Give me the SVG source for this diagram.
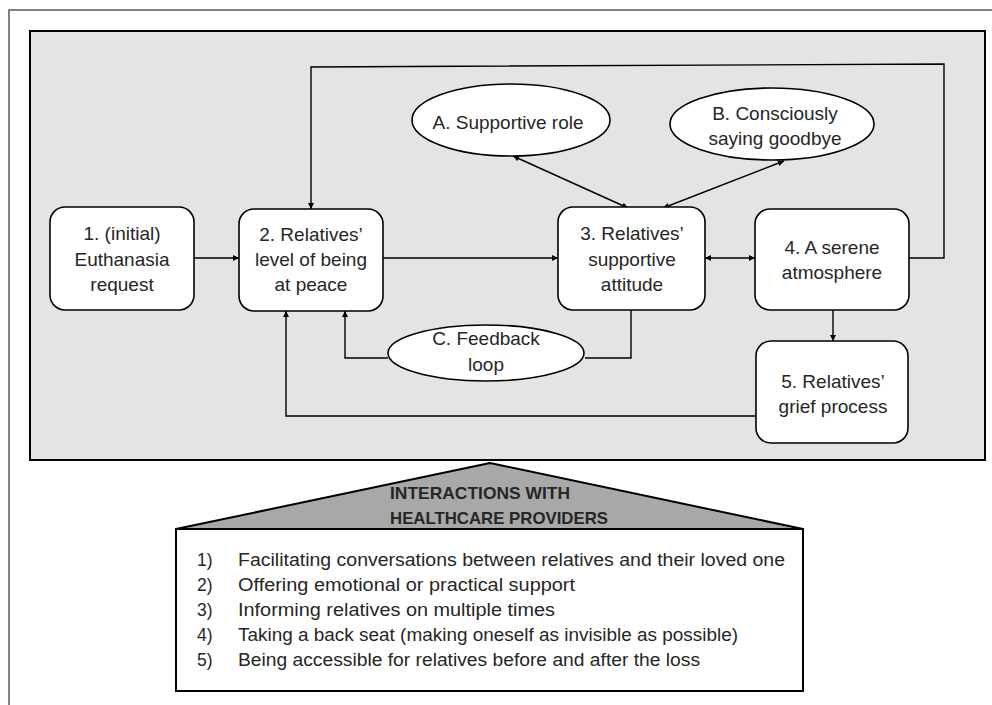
<svg xmlns="http://www.w3.org/2000/svg" width="992" height="705" viewBox="0 0 992 705">
<defs>
<marker id="ah" viewBox="0 0 10 10" refX="10" refY="5" markerWidth="7" markerHeight="6" markerUnits="userSpaceOnUse" orient="auto-start-reverse">
<path d="M0,0 L10,5 L0,10 z" fill="#000"/>
</marker>
<style>
.frame{fill:none;stroke:#5a5a5a;stroke-width:1.5}
.panel{fill:#e4e4e4;stroke:#000;stroke-width:2}
.node{fill:#fff;stroke:#000;stroke-width:1.6}
.conn{fill:none;stroke:#000;stroke-width:1.4}
.t{font-family:"Liberation Sans",Arial,sans-serif;font-size:19px;fill:#262626;text-anchor:middle}
.li{font-family:"Liberation Sans",Arial,sans-serif;font-size:17.5px;fill:#262626}
.hd{font-family:"Liberation Sans",Arial,sans-serif;font-size:17px;font-weight:bold;fill:#262626}
</style>
</defs>
<path class="frame" d="M9,705 L9,10 L992,10"/>
<rect class="panel" x="30" y="31" width="955" height="429"/>

<g id="connectors">
<path class="conn" d="M194,258 L239,258" marker-end="url(#ah)"/>
<path class="conn" d="M383,258 L558,258" marker-end="url(#ah)"/>
<path class="conn" d="M705,258 L755,258" marker-start="url(#ah)" marker-end="url(#ah)"/>
<path class="conn" d="M909,258 L944,258 L944,64 L311,67 L311,209" marker-end="url(#ah)"/>
<path class="conn" d="M513,156 L628,208" marker-start="url(#ah)" marker-end="url(#ah)"/>
<path class="conn" d="M784,161 L663,208" marker-start="url(#ah)" marker-end="url(#ah)"/>
<path class="conn" d="M631,310 L631,358 L585,358"/>
<path class="conn" d="M388,358 L345,358 L345,311" marker-end="url(#ah)"/>
<path class="conn" d="M833,310 L833,341" marker-end="url(#ah)"/>
<path class="conn" d="M756,416 L286,416 L286,311" marker-end="url(#ah)"/>
</g>

<g id="n1">
<rect class="node" x="50" y="207" width="144" height="103" rx="15"/>
<text class="t" x="122" y="240">1. (initial)</text>
<text class="t" x="122" y="266">Euthanasia</text>
<text class="t" x="122" y="291">request</text>
</g>
<g id="n2">
<rect class="node" x="239" y="209" width="144" height="102" rx="15"/>
<text class="t" x="311" y="241">2. Relatives’</text>
<text class="t" x="311" y="266">level of being</text>
<text class="t" x="311" y="291">at peace</text>
</g>
<g id="n3">
<rect class="node" x="558" y="207" width="147" height="103" rx="15"/>
<text class="t" x="632" y="240">3. Relatives’</text>
<text class="t" x="632" y="266">supportive</text>
<text class="t" x="632" y="291">attitude</text>
</g>
<g id="n4">
<rect class="node" x="755" y="209" width="154" height="101" rx="15"/>
<text class="t" x="832" y="254">4. A serene</text>
<text class="t" x="832" y="279">atmosphere</text>
</g>
<g id="n5">
<rect class="node" x="756" y="341" width="152" height="102" rx="15"/>
<text class="t" x="833" y="388">5. Relatives’</text>
<text class="t" x="833" y="413">grief process</text>
</g>
<g id="A">
<ellipse class="node" cx="511" cy="120" rx="99" ry="36"/>
<text class="t" x="508" y="129">A. Supportive role</text>
</g>
<g id="B">
<ellipse class="node" cx="772" cy="124" rx="102" ry="36"/>
<text class="t" x="775" y="120">B. Consciously</text>
<text class="t" x="775" y="145">saying goodbye</text>
</g>
<g id="C">
<ellipse class="node" cx="486" cy="353" rx="98" ry="28"/>
<text class="t" x="486" y="345">C. Feedback</text>
<text class="t" x="486" y="371">loop</text>
</g>

<g id="providers">
<path d="M176,529 L490,463 L803,529 Z" fill="#a8a8a8" stroke="#000" stroke-width="2" stroke-linejoin="round"/>
<text class="hd" x="390" y="499" textLength="180" lengthAdjust="spacingAndGlyphs">INTERACTIONS WITH</text>
<text class="hd" x="390" y="524" textLength="218" lengthAdjust="spacingAndGlyphs">HEALTHCARE PROVIDERS</text>
<rect x="176" y="529" width="627" height="162" fill="#fff" stroke="#000" stroke-width="2"/>
<text class="li" x="197" y="566">1)</text>
<text class="li" x="238" y="566" textLength="547" lengthAdjust="spacingAndGlyphs">Facilitating conversations between relatives and their loved one</text>
<text class="li" x="197" y="591">2)</text>
<text class="li" x="238" y="591" textLength="337" lengthAdjust="spacingAndGlyphs">Offering emotional or practical support</text>
<text class="li" x="197" y="616">3)</text>
<text class="li" x="238" y="616" textLength="317" lengthAdjust="spacingAndGlyphs">Informing relatives on multiple times</text>
<text class="li" x="197" y="641">4)</text>
<text class="li" x="238" y="641" textLength="500" lengthAdjust="spacingAndGlyphs">Taking a back seat (making oneself as invisible as possible)</text>
<text class="li" x="197" y="666">5)</text>
<text class="li" x="238" y="666" textLength="462" lengthAdjust="spacingAndGlyphs">Being accessible for relatives before and after the loss</text>
</g>
</svg>
